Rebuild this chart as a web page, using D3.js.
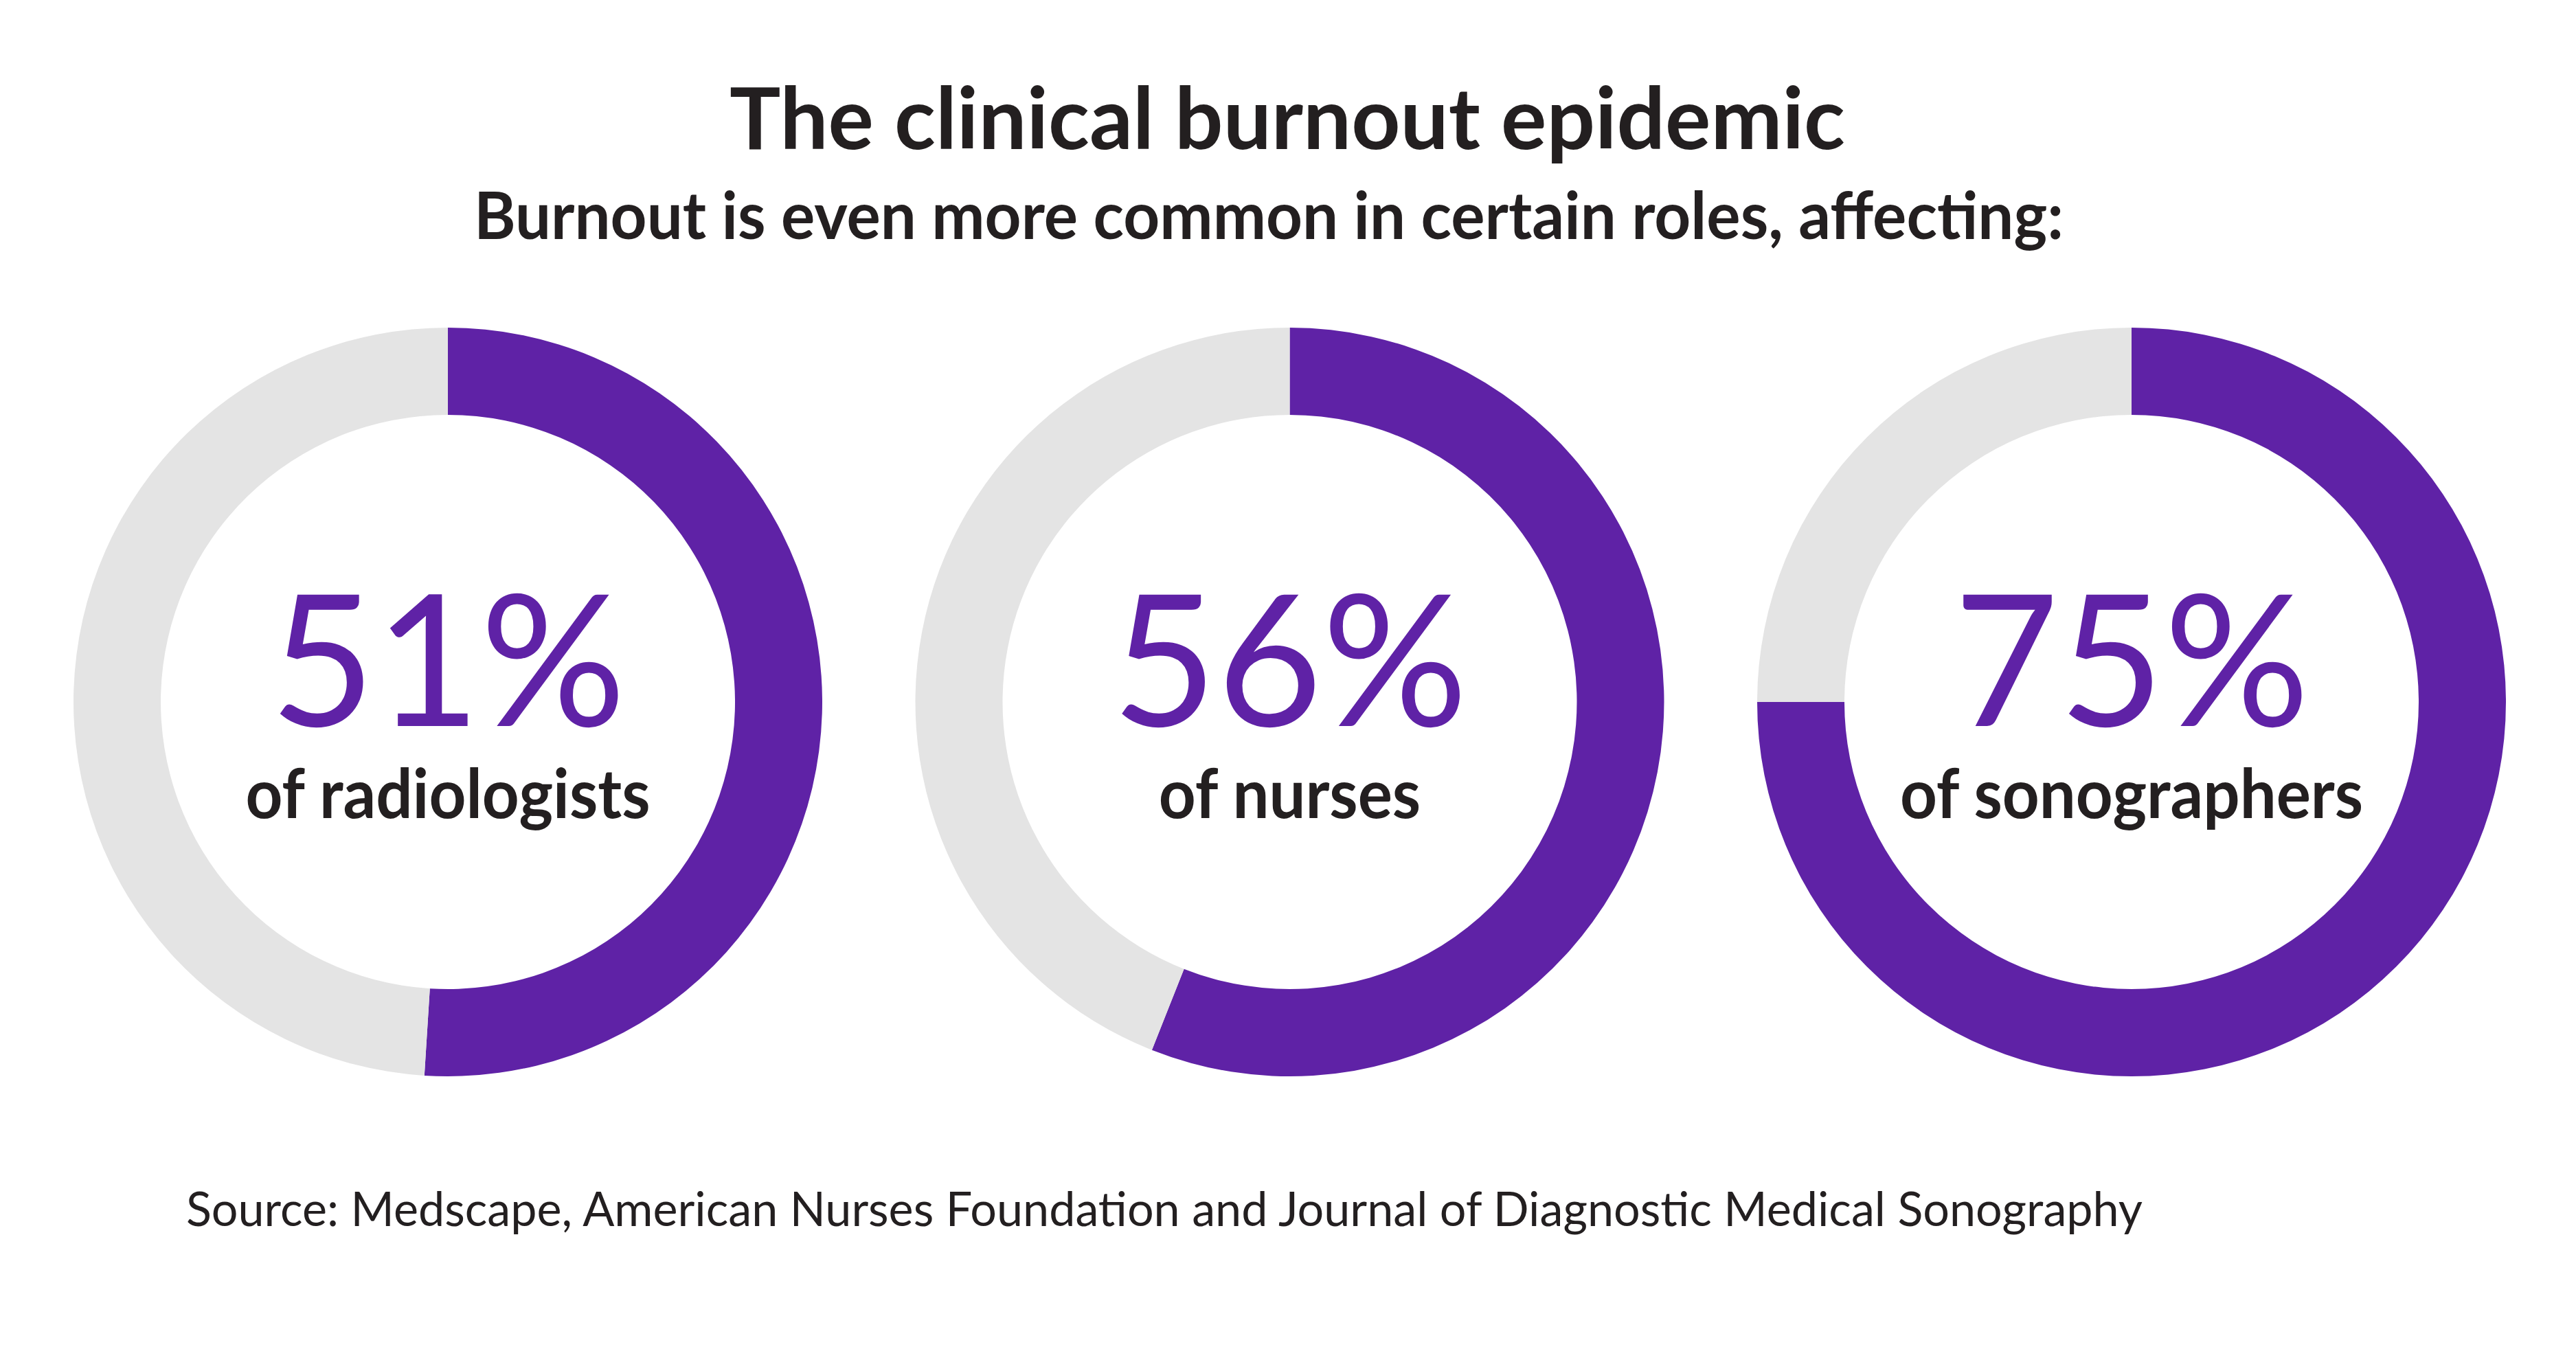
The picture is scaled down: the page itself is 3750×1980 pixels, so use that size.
<!DOCTYPE html>
<html>
<head>
<meta charset="utf-8">
<script src="https://cdn.jsdelivr.net/npm/d3@7"></script>
<style>
  html, body { margin: 0; padding: 0; background: #ffffff; }
  #viz { width: 3750px; height: 1980px; }
  text { font-family: Lato, "Noto Sans", sans-serif; }
</style>
</head>
<body>
<div id="viz"></div>
<script>
// data
var roles = ["radiologists", "nurses", "sonographers"];
var burnout = [51, 56, 75];
var title = "The clinical burnout epidemic";
var subtitle = "Burnout is even more common in certain roles, affecting:";
var source = "Source: Medscape, American Nurses Foundation and Journal of Diagnostic Medical Sonography";

var width = 3750,
    height = 1980;

var purple = "#5f22a6",
    grey = "#e4e4e4",
    ink = "#231f20";

var svg = d3.select("#viz").append("svg")
    .attr("width", width)
    .attr("height", height);

svg.append("rect")
    .attr("width", width)
    .attr("height", height)
    .attr("fill", "#ffffff");

/* headings */

svg.append("text")
    .attr("x", 1874)
    .attr("y", 217)
    .attr("text-anchor", "middle")
    .attr("font-size", 124)
    .attr("font-weight", 700)
    .attr("fill", ink)
    .attr("textLength", 1624)
    .attr("lengthAdjust", "spacingAndGlyphs")
    .text(title);

svg.append("text")
    .attr("x", 1847)
    .attr("y", 348)
    .attr("text-anchor", "middle")
    .attr("font-size", 96)
    .attr("font-weight", 700)
    .attr("fill", ink)
    .attr("textLength", 2314)
    .attr("lengthAdjust", "spacingAndGlyphs")
    .text(subtitle);

/* donuts */

var x = d3.scalePoint()
    .domain(roles)
    .range([652, 3103]);

var cy = 1022;
var outerR = 545,
    innerR = 418;

var pie = d3.pie()
    .sort(null)
    .value(function(d) { return d; });

var arc = d3.arc()
    .innerRadius(innerR)
    .outerRadius(outerR);

var donuts = svg.append("g")
    .attr("class", "donuts")
    .selectAll("g")
    .data(roles)
    .enter()
    .append("g")
    .attr("transform", function(d) { return "translate(" + x(d) + "," + cy + ")"; });

donuts.selectAll("path")
    .data(function(d, i) { return pie([burnout[i], 100 - burnout[i]]); })
    .enter()
    .append("path")
    .attr("d", arc)
    .attr("fill", function(d, i) { return i === 0 ? purple : grey; });

donuts.append("text")
    .attr("y", 35)
    .attr("text-anchor", "middle")
    .attr("font-size", 267)
    .attr("font-weight", 400)
    .attr("fill", purple)
    .attr("textLength", 518)
    .attr("lengthAdjust", "spacingAndGlyphs")
    .text(function(d, i) { return burnout[i] + "%"; });

// Lato bold runs a bit wider than the original face, squeeze it a little
donuts.append("text")
    .attr("y", 169)
    .attr("text-anchor", "middle")
    .attr("font-size", 100)
    .attr("font-weight", 700)
    .attr("fill", ink)
    .text(function(d) { return "of " + d; })
    .each(function() {
      var w = this.getComputedTextLength();
      d3.select(this)
          .attr("textLength", w * 0.94)
          .attr("lengthAdjust", "spacingAndGlyphs");
    });

/* source */

svg.append("text")
    .attr("x", 271)
    .attr("y", 1785)
    .attr("font-size", 70)
    .attr("font-weight", 400)
    .attr("fill", ink)
    .attr("textLength", 2848)
    .attr("lengthAdjust", "spacingAndGlyphs")
    .text(source);
</script>
</body>
</html>
